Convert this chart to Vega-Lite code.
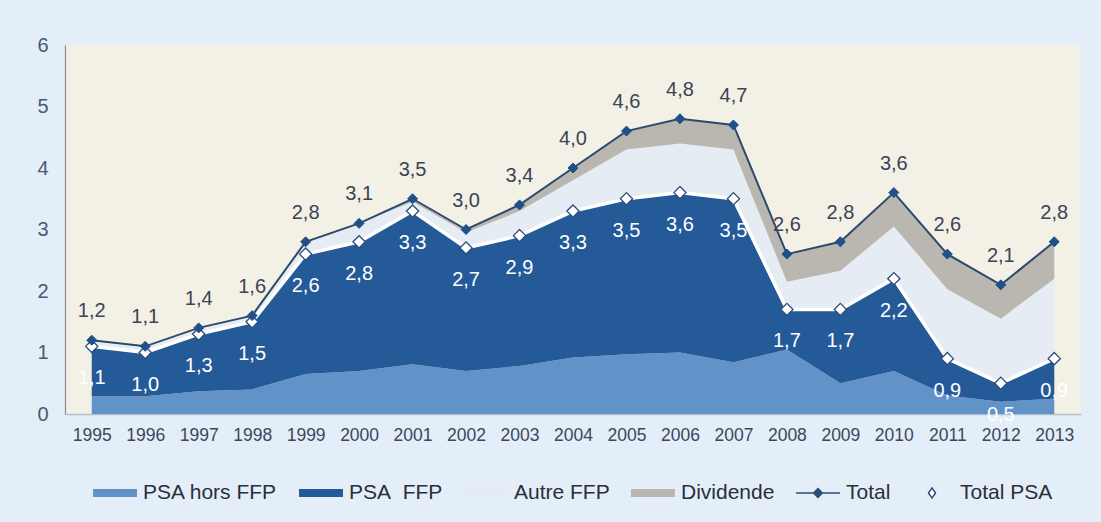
{
  "$schema": "https://vega.github.io/schema/vega-lite/v6.json",
  "width": 1016,
  "height": 369,
  "autosize": {"type": "none"},
  "padding": {"left": 65, "top": 45, "right": 20, "bottom": 108},
  "background": "#e3eef9",
  "config": {
    "view": {"fill": "#f3f0e6", "stroke": null},
    "font": "Liberation Sans"
  },
  "data": {
    "values": [
      {"year": "1995", "hors": 0.29, "ffp": 0.81, "autre": 0.10, "div": 0.00, "total": 1.2, "totalpsa": 1.1},
      {"year": "1996", "hors": 0.29, "ffp": 0.71, "autre": 0.10, "div": 0.00, "total": 1.1, "totalpsa": 1.0},
      {"year": "1997", "hors": 0.37, "ffp": 0.93, "autre": 0.10, "div": 0.00, "total": 1.4, "totalpsa": 1.3},
      {"year": "1998", "hors": 0.40, "ffp": 1.10, "autre": 0.10, "div": 0.00, "total": 1.6, "totalpsa": 1.5},
      {"year": "1999", "hors": 0.65, "ffp": 1.95, "autre": 0.20, "div": 0.00, "total": 2.8, "totalpsa": 2.6},
      {"year": "2000", "hors": 0.70, "ffp": 2.10, "autre": 0.30, "div": 0.00, "total": 3.1, "totalpsa": 2.8},
      {"year": "2001", "hors": 0.81, "ffp": 2.49, "autre": 0.15, "div": 0.05, "total": 3.5, "totalpsa": 3.3},
      {"year": "2002", "hors": 0.70, "ffp": 2.00, "autre": 0.25, "div": 0.05, "total": 3.0, "totalpsa": 2.7},
      {"year": "2003", "hors": 0.78, "ffp": 2.12, "autre": 0.40, "div": 0.10, "total": 3.4, "totalpsa": 2.9},
      {"year": "2004", "hors": 0.92, "ffp": 2.38, "autre": 0.50, "div": 0.20, "total": 4.0, "totalpsa": 3.3},
      {"year": "2005", "hors": 0.97, "ffp": 2.53, "autre": 0.80, "div": 0.30, "total": 4.6, "totalpsa": 3.5},
      {"year": "2006", "hors": 1.00, "ffp": 2.60, "autre": 0.80, "div": 0.40, "total": 4.8, "totalpsa": 3.6},
      {"year": "2007", "hors": 0.84, "ffp": 2.66, "autre": 0.80, "div": 0.40, "total": 4.7, "totalpsa": 3.5},
      {"year": "2008", "hors": 1.05, "ffp": 0.65, "autre": 0.45, "div": 0.45, "total": 2.6, "totalpsa": 1.7},
      {"year": "2009", "hors": 0.50, "ffp": 1.20, "autre": 0.63, "div": 0.47, "total": 2.8, "totalpsa": 1.7},
      {"year": "2010", "hors": 0.70, "ffp": 1.50, "autre": 0.85, "div": 0.55, "total": 3.6, "totalpsa": 2.2},
      {"year": "2011", "hors": 0.30, "ffp": 0.60, "autre": 1.13, "div": 0.57, "total": 2.6, "totalpsa": 0.9},
      {"year": "2012", "hors": 0.20, "ffp": 0.30, "autre": 1.05, "div": 0.55, "total": 2.1, "totalpsa": 0.5},
      {"year": "2013", "hors": 0.25, "ffp": 0.65, "autre": 1.30, "div": 0.60, "total": 2.8, "totalpsa": 0.9}
    ]
  },
  "encoding": {
    "x": {
      "field": "year",
      "type": "ordinal",
      "scale": {"type": "point", "padding": 0.5},
      "axis": {
        "title": null,
        "labelAngle": 0,
        "labelFontSize": 17.5,
        "labelColor": "#3b475b",
        "labelPadding": 12,
        "ticks": false,
        "domainColor": "#b3c0cf",
        "domainWidth": 1.5,
        "grid": false
      }
    }
  },
  "layer": [
    {
      "transform": [
        {"fold": ["hors", "ffp", "autre", "div"], "as": ["key", "value"]},
        {"calculate": "{'hors': 'PSA hors FFP', 'ffp': 'PSA\u00a0 FFP', 'autre': 'Autre FFP', 'div': 'Dividende'}[datum.key]", "as": "series"},
        {"calculate": "{'hors': 0, 'ffp': 1, 'autre': 2, 'div': 3}[datum.key]", "as": "ord"}
      ],
      "mark": {"type": "area", "interpolate": "linear"},
      "encoding": {
        "y": {
          "field": "value",
          "type": "quantitative",
          "stack": "zero",
          "scale": {"domain": [0, 6], "nice": false},
          "axis": {
            "title": null,
            "values": [0, 1, 2, 3, 4, 5, 6],
            "format": "d",
            "labelFontSize": 20,
            "labelColor": "#4b5870",
            "labelPadding": 17,
            "ticks": false,
            "grid": false,
            "domainColor": "#8a8a8a",
            "domainWidth": 1.2
          }
        },
        "order": {"field": "ord", "type": "quantitative"},
        "color": {
          "field": "series",
          "type": "nominal",
          "scale": {
            "domain": ["PSA hors FFP", "PSA\u00a0 FFP", "Autre FFP", "Dividende", "Total", "Total PSA"],
            "range": ["#6193c8", "#245a98", "#e6ecf3", "#bab7b1", "#1f5088", "#ffffff"]
          },
          "legend": {
            "title": null,
            "orient": "none",
            "legendX": 27,
            "legendY": 425,
            "direction": "horizontal",
            "columns": 6,
            "columnPadding": 18,
            "labelOffset": 5,
            "labelFontSize": 21,
            "labelColor": "#2a2f3a",
            "symbolSize": 1936,
            "padding": 0,
            "encode": {
              "symbols": {
                "update": {
                  "shape": {"signal": "datum.value === 'Total' ? 'M-1,0H1M0,-0.2L0.2,0L0,0.2L-0.2,0Z' : (datum.value === 'Total PSA' ? 'M0,-0.23L0.16,0L0,0.23L-0.16,0Z' : 'M-1,-0.18H1V0.18H-1Z')"},
                  "stroke": {"signal": "datum.value === 'Total' || datum.value === 'Total PSA' ? '#2b4d78' : 'transparent'"},
                  "strokeWidth": {"value": 1.5},
                  "opacity": {"value": 1}
                }
              }
            }
          }
        }
      }
    },
    {
      "mark": {"type": "line", "color": "#ffffff", "strokeWidth": 3.5},
      "encoding": {"y": {"field": "totalpsa", "type": "quantitative"}}
    },
    {
      "mark": {"type": "line", "color": "#2d4a6c", "strokeWidth": 2},
      "encoding": {"y": {"field": "total", "type": "quantitative"}}
    },
    {
      "mark": {"type": "point", "shape": "diamond", "filled": true, "fill": "#ffffff", "stroke": "#2b4d78", "strokeWidth": 1.3, "size": 150, "opacity": 1},
      "encoding": {"y": {"field": "totalpsa", "type": "quantitative"}}
    },
    {
      "mark": {"type": "point", "shape": "diamond", "filled": true, "fill": "#1f5088", "stroke": "#1f5088", "strokeWidth": 1, "size": 100, "opacity": 1},
      "encoding": {"y": {"field": "total", "type": "quantitative"}}
    },
    {
      "transform": [{"calculate": "replace(format(datum.total, '.1f'), '.', ',')", "as": "lab"}],
      "mark": {"type": "text", "baseline": "middle", "align": "center", "dy": -29, "fontSize": 20, "color": "#3b4354"},
      "encoding": {
        "y": {"field": "total", "type": "quantitative"},
        "text": {"field": "lab"}
      }
    },
    {
      "transform": [{"calculate": "replace(format(datum.totalpsa, '.1f'), '.', ',')", "as": "lab"}],
      "mark": {"type": "text", "baseline": "middle", "align": "center", "dy": 32, "fontSize": 20, "color": "#ffffff"},
      "encoding": {
        "y": {"field": "totalpsa", "type": "quantitative"},
        "text": {"field": "lab"}
      }
    }
  ]
}
